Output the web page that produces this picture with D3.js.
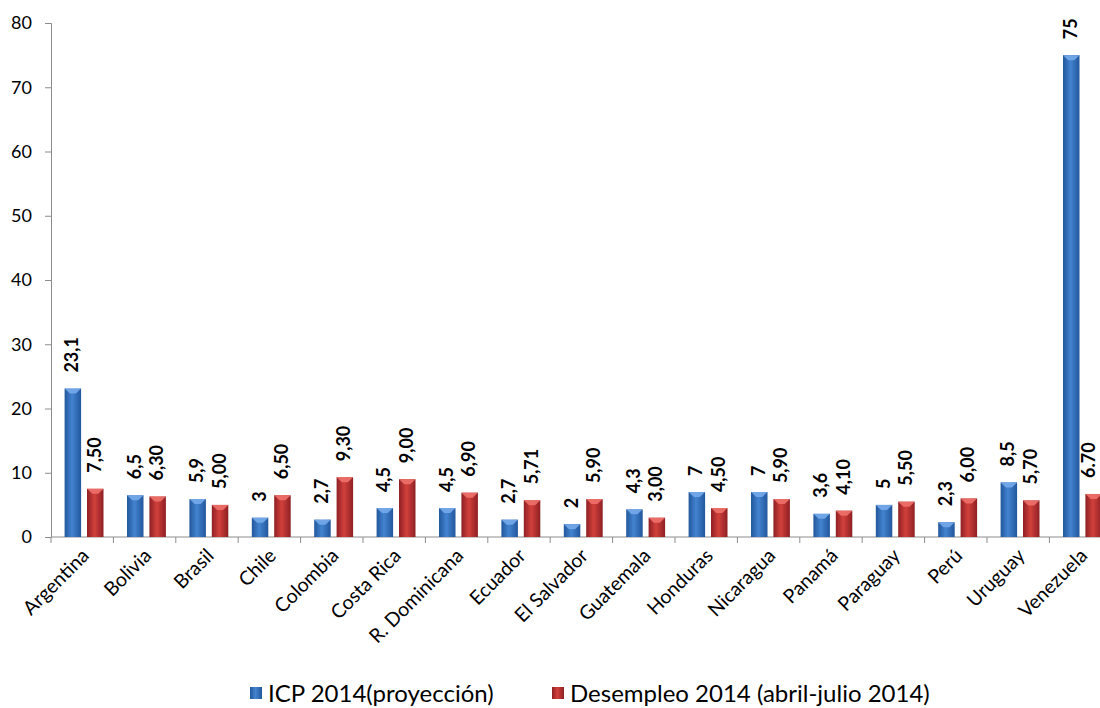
<!doctype html>
<html>
<head>
<meta charset="utf-8">
<title>ICP y desempleo 2014</title>
<script src="https://cdnjs.cloudflare.com/ajax/libs/d3/7.8.5/d3.min.js"></script>
<style>
  html, body { margin: 0; padding: 0; background: #fff; }
  svg { display: block; font-family: Lato, "Open Sans", sans-serif; }
</style>
</head>
<body>
<div id="chart"></div>
<script>
// data
const countries = ["Argentina", "Bolivia", "Brasil", "Chile", "Colombia", "Costa Rica",
  "R. Dominicana", "Ecuador", "El Salvador", "Guatemala", "Honduras", "Nicaragua",
  "Panamá", "Paraguay", "Perú", "Uruguay", "Venezuela"];
const icp = [23.1, 6.5, 5.9, 3, 2.7, 4.5, 4.5, 2.7, 2, 4.3, 7, 7, 3.6, 5, 2.3, 8.5, 75];
const icpLabels = ["23,1", "6,5", "5,9", "3", "2,7", "4,5", "4,5", "2,7", "2", "4,3", "7", "7", "3,6", "5", "2,3", "8,5", "75"];
const desempleo = [7.5, 6.3, 5.0, 6.5, 9.3, 9.0, 6.9, 5.71, 5.9, 3.0, 4.5, 5.9, 4.1, 5.5, 6.0, 5.7, 6.7];
const desLabels = ["7,50", "6,30", "5,00", "6,50", "9,30", "9,00", "6,90", "5,71", "5,90", "3,00", "4,50", "5,90", "4,10", "5,50", "6,00", "5,70", "6.70"];
const yTicks = [0, 10, 20, 30, 40, 50, 60, 70, 80];
const seriesNames = ["ICP 2014(proyección)", "Desempleo 2014 (abril-julio 2014)"];

const W = 1100, H = 708;
const svg = d3.select('#chart').append('svg')
  .attr('width', W).attr('height', H);

// gradients for the bevelled bars
const defs = svg.append('defs');
function grad(id, edge, mid) {
  const g = defs.append('linearGradient').attr('id', id)
    .attr('x1', 0).attr('x2', 1).attr('y1', 0).attr('y2', 0);
  g.append('stop').attr('offset', '0%').attr('stop-color', edge);
  g.append('stop').attr('offset', '45%').attr('stop-color', mid);
  g.append('stop').attr('offset', '100%').attr('stop-color', edge);
}
grad('gBlue', '#22579c', '#4383d0');
grad('gRed', '#8e2024', '#d2403b');

// plot area runs past the right edge like the original
const x = d3.scaleBand().domain(countries).range([51, 51 + 62.4 * 17]);
const y = d3.scaleLinear().domain([0, 80]).range([537, 23]);

// y axis
const yAxis = svg.append('g')
  .attr('transform', 'translate(51,0)')
  .call(d3.axisLeft(y).tickValues(yTicks).tickSize(6).tickPadding(13))
  .attr('font-family', null);
yAxis.select('.domain').attr('stroke', '#8c8c8c');
yAxis.selectAll('.tick line').attr('stroke', '#8c8c8c');
yAxis.selectAll('text').attr('font-size', 18).attr('fill', '#000');

// x axis line and boundary ticks
svg.append('line').attr('x1', 51).attr('x2', W).attr('y1', y(0)).attr('y2', y(0))
  .attr('stroke', '#8c8c8c');
svg.selectAll('.xtick').data(countries).join('line').attr('class', 'xtick')
  .attr('x1', d => x(d)).attr('x2', d => x(d))
  .attr('y1', y(0)).attr('y2', y(0) + 6).attr('stroke', '#8c8c8c');

const bw = 16.5;
const series = [
  { vals: icp, labels: icpLabels, off: 13.6, fill: 'url(#gBlue)', cap: '#76aaea' },
  { vals: desempleo, labels: desLabels, off: 36, fill: 'url(#gRed)', cap: '#ee716a' }
];

series.forEach(s => {
  const g = svg.append('g');
  g.selectAll('rect').data(countries).join('rect')
    .attr('x', (d, i) => x(d) + s.off)
    .attr('y', (d, i) => y(s.vals[i]))
    .attr('width', bw)
    .attr('height', (d, i) => y(0) - y(s.vals[i]))
    .attr('fill', s.fill);
  // little bevel on top
  g.selectAll('path').data(countries).join('path')
    .attr('d', (d, i) => {
      const x0 = x(d) + s.off, t = y(s.vals[i]);
      return `M${x0},${t}L${x0 + bw},${t}L${x0 + bw / 2 + 3},${t + 5}L${x0 + bw / 2 - 3},${t + 5}Z`;
    })
    .attr('fill', s.cap).attr('opacity', 0.9);
  // keep the last label inside the picture
  g.selectAll('text').data(countries).join('text')
    .attr('transform', (d, i) => {
      const lx = Math.min(x(d) + s.off + bw / 2 + 5.5, W - 5);
      return `translate(${lx},${y(s.vals[i]) - 16}) rotate(-90)`;
    })
    .attr('font-size', 18).attr('font-weight', 'bold')
    .text((d, i) => s.labels[i]);
});

// category labels
svg.selectAll('.cat').data(countries).join('text').attr('class', 'cat')
  .attr('text-anchor', 'end')
  .attr('transform', d => `translate(${x(d) + x.bandwidth() / 2 + 8},${y(0) + 20}) rotate(-45)`)
  .attr('font-size', 19.5)
  .text(d => d);

// legend
const legX = [250, 552];
const legColors = ['url(#gBlue)', 'url(#gRed)'];
const leg = svg.selectAll('.leg').data(seriesNames).join('g').attr('class', 'leg')
  .attr('transform', (d, i) => `translate(${legX[i]},687)`);
leg.append('rect').attr('width', 12).attr('height', 12)
  .attr('fill', (d, i) => legColors[i]);
leg.append('text').attr('x', 18).attr('y', 15)
  .attr('font-size', 24).text(d => d);
</script>
</body>
</html>
